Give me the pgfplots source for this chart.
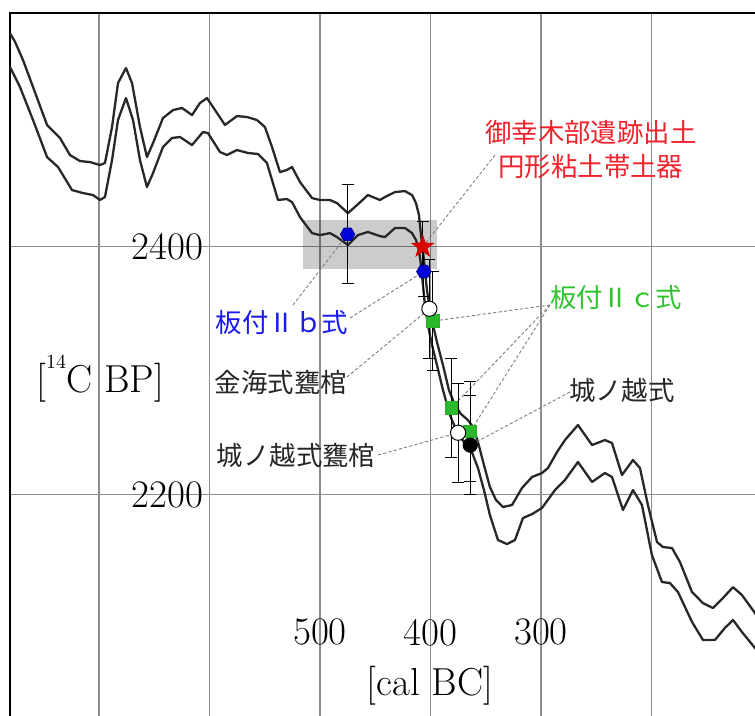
\documentclass[border=0pt]{standalone}
\usepackage{fontspec}
\usepackage{pgfplots}
\usepackage{pgfplotstable}
\pgfplotsset{compat=1.18}
\newfontfamily\jp{Noto Sans CJK JP}

\definecolor{bluelab}{RGB}{25,25,235}
\definecolor{redlab}{RGB}{240,35,45}
\definecolor{greenlab}{RGB}{45,195,45}
\definecolor{curvecol}{RGB}{40,40,40}
\definecolor{gridcol}{RGB}{140,140,140}

% filled hexagon and filled five-pointed star
\pgfdeclareplotmark{hexagon*}{%
  \pgfpathmoveto{\pgfqpointpolar{0}{\pgfplotmarksize}}%
  \pgfpathlineto{\pgfqpointpolar{60}{\pgfplotmarksize}}%
  \pgfpathlineto{\pgfqpointpolar{120}{\pgfplotmarksize}}%
  \pgfpathlineto{\pgfqpointpolar{180}{\pgfplotmarksize}}%
  \pgfpathlineto{\pgfqpointpolar{240}{\pgfplotmarksize}}%
  \pgfpathlineto{\pgfqpointpolar{300}{\pgfplotmarksize}}%
  \pgfpathclose\pgfusepathqfillstroke}
\pgfdeclareplotmark{fstar}{%
  \pgfpathmoveto{\pgfpointpolar{90}{\pgfplotmarksize}}%
  \pgfpathlineto{\pgfpointpolar{126}{0.4*\pgfplotmarksize}}%
  \pgfpathlineto{\pgfpointpolar{162}{\pgfplotmarksize}}%
  \pgfpathlineto{\pgfpointpolar{198}{0.4*\pgfplotmarksize}}%
  \pgfpathlineto{\pgfpointpolar{234}{\pgfplotmarksize}}%
  \pgfpathlineto{\pgfpointpolar{270}{0.4*\pgfplotmarksize}}%
  \pgfpathlineto{\pgfpointpolar{306}{\pgfplotmarksize}}%
  \pgfpathlineto{\pgfpointpolar{342}{0.4*\pgfplotmarksize}}%
  \pgfpathlineto{\pgfpointpolar{18}{\pgfplotmarksize}}%
  \pgfpathlineto{\pgfpointpolar{54}{0.4*\pgfplotmarksize}}%
  \pgfpathclose\pgfusepathqfillstroke}

% calibration curve, upper and lower 1-sigma bounds (cal BC, 14C BP)
\pgfplotstableread{
x y
780.5 2572.1
776.0 2565.3
768.8 2550.6
759.7 2528.8
747.0 2498.2
735.3 2487.7
726.3 2474.0
717.2 2469.1
708.2 2468.3
699.1 2465.9
694.6 2467.5
688.2 2496.5
682.8 2532.0
675.6 2544.1
670.1 2532.0
662.9 2496.5
656.6 2472.3
651.1 2483.6
642.1 2503.8
633.0 2510.2
624.9 2511.9
615.8 2506.2
608.6 2515.9
602.3 2519.9
596.8 2512.7
586.0 2498.2
575.1 2505.4
566.1 2504.6
557.0 2502.2
549.8 2496.5
543.4 2480.4
536.2 2460.2
529.9 2461.9
525.3 2464.3
518.1 2452.2
507.2 2439.3
500.0 2437.7
491.0 2437.7
484.6 2435.2
474.7 2427.1
466.5 2433.6
456.6 2441.7
445.7 2437.7
441.2 2440.1
432.1 2444.1
423.1 2444.9
416.7 2441.7
413.1 2435.2
410.4 2425.6
408.6 2409.4
405.9 2389.3
403.2 2365.1
400.5 2348.9
397.7 2336.9
394.1 2323.1
388.7 2304.6
383.3 2284.4
377.8 2272.3
372.4 2265.1
366.1 2260.2
361.5 2254.6
357.0 2242.5
351.6 2224.0
346.2 2206.2
340.7 2195.7
334.4 2190.1
326.2 2191.7
317.2 2205.4
308.1 2214.3
299.1 2217.5
293.7 2221.5
285.5 2234.4
278.3 2244.1
266.5 2256.2
253.8 2240.1
242.1 2244.1
235.7 2241.7
226.7 2215.9
216.7 2228.0
210.4 2221.5
203.2 2191.7
195.0 2161.9
189.6 2157.8
181.4 2157.0
174.2 2145.7
163.3 2121.5
153.4 2112.6
144.3 2108.6
135.3 2116.7
126.2 2125.5
118.1 2119.1
106.3 2104.6
100.0 2095.0
}\upperbound

\pgfplotstableread{
x y
780.5 2544.9
771.5 2528.8
759.7 2502.2
747.0 2472.3
737.1 2464.3
724.4 2445.7
714.5 2443.3
705.4 2441.7
699.1 2437.7
694.6 2440.1
688.2 2469.9
682.8 2502.2
675.6 2519.9
669.2 2502.2
662.9 2469.9
656.6 2448.1
651.1 2459.4
642.1 2480.4
633.9 2487.7
626.7 2488.5
615.8 2482.0
605.9 2492.5
601.4 2491.7
590.5 2476.4
584.2 2474.0
575.1 2478.0
565.2 2475.6
556.1 2474.8
548.0 2467.5
538.0 2437.7
529.9 2438.5
525.3 2436.0
518.1 2423.9
507.2 2411.0
500.0 2409.4
491.0 2411.0
484.6 2407.8
474.7 2401.4
465.6 2409.4
456.6 2411.9
445.7 2408.6
441.2 2407.8
432.1 2415.1
423.1 2415.1
416.7 2411.0
413.1 2405.4
410.4 2397.3
408.6 2385.2
406.8 2369.1
405.0 2353.0
402.3 2336.9
398.6 2320.7
394.1 2304.6
388.7 2284.4
382.4 2264.3
376.0 2250.6
369.7 2242.5
362.5 2234.4
357.0 2221.5
351.6 2203.8
346.2 2183.6
338.9 2163.5
330.8 2160.2
323.5 2163.5
316.3 2181.2
308.1 2184.4
299.1 2189.3
287.3 2203.8
278.3 2211.9
266.5 2226.4
253.8 2210.3
242.1 2217.5
235.7 2214.3
225.8 2187.7
216.7 2203.8
208.6 2191.7
199.6 2151.4
190.5 2129.6
183.3 2128.8
176.0 2121.5
163.3 2097.4
153.4 2082.9
142.5 2082.9
133.5 2092.6
126.2 2099.0
118.1 2089.3
106.3 2076.4
100.0 2068.0
}\lowerbound

\begin{document}
\begin{tikzpicture}
\begin{axis}[
  scale only axis,
  width=376pt, height=358.7pt,
  x dir=reverse,
  xmin=100, xmax=780.5,
  ymin=2010, ymax=2588.5,
  xtick={100,200,...,700},
  ytick={2000,2200,2400},
  xticklabels={}, yticklabels={},
  major tick length=0pt,
  grid=major,
  major grid style={gridcol, line width=0.75pt},
  axis line style={black, line width=0.9pt},
  clip=false,
  error bars/error bar style={black, line width=0.55pt},
  error bars/error mark options={black, rotate=90, mark size=3pt, line width=0.55pt},
]
% page frame (the axis runs on past the right and bottom edges)
\coordinate (pageTL) at (axis cs:789.6,2599.0);
\coordinate (pageBR) at (axis cs:106.3,2022.3);

% shaded range
\addplot [draw=none, fill=black, fill opacity=0.2]
  coordinates {(515.4,2421.5) (394.0,2421.5) (394.0,2382.0) (515.4,2382.0)} -- cycle;

\addplot [curvecol, line width=1.15pt, no marks, line join=round] table {\upperbound};
\addplot [curvecol, line width=1.15pt, no marks, line join=round] table {\lowerbound};

% leader lines
\begin{scope}[gridcol!90!black, line width=0.45pt, dash pattern=on 1.6pt off 1.1pt]
\draw (axis cs:524.4,2353.0) -- (axis cs:475,2410);
\draw (axis cs:472.9,2342.5) -- (axis cs:406,2380);
\draw (axis cs:475.6,2294.9) -- (axis cs:401,2350);
\draw (axis cs:447.5,2232.0) -- (axis cs:375,2250);
\draw (axis cs:291.9,2353.0) -- (axis cs:398,2340);
\draw (axis cs:291.9,2353.0) -- (axis cs:381,2270);
\draw (axis cs:291.9,2353.0) -- (axis cs:364,2251);
\draw (axis cs:273.8,2282.8) -- (axis cs:364,2240);
\draw (axis cs:341.6,2474.0) -- (axis cs:407,2400);
\end{scope}

% 板付IIb式
\addplot [only marks, mark=hexagon*, mark size=3.6pt, draw=blue!60!black, fill=blue!85!black,
  error bars/.cd, y dir=both, y explicit]
  coordinates {(475,2410) +- (0,40) (406,2380) +- (0,20)};
% 板付IIc式
\addplot [only marks, mark=square*, mark size=3.2pt, draw=greenlab!90!black, fill=greenlab!95!black,
  error bars/.cd, y dir=both, y explicit]
  coordinates {(398,2340) +- (0,40) (381,2270) +- (0,40) (364,2251) +- (0,40)};
% 金海式甕棺, 城ノ越式甕棺
\addplot [only marks, mark=*, mark size=3.8pt, draw=black, fill=white, line width=0.5pt,
  error bars/.cd, y dir=both, y explicit]
  coordinates {(401,2350) +- (0,40) (375,2250) +- (0,40)};
% 城ノ越式
\addplot [only marks, mark=*, mark size=3.6pt, draw=black, fill=black,
  error bars/.cd, y dir=both, y explicit]
  coordinates {(364,2240) +- (0,40)};
% 御幸木部遺跡出土 円形粘土帯土器
\addplot [only marks, mark=fstar, mark size=5.8pt, draw=red!80!black, fill=red!85!black, line width=0.3pt,
  error bars/.cd, y dir=both, y explicit]
  coordinates {(407,2400) +- (0,20)};

% tick and axis labels
\begin{scope}[font=\fontsize{19.5}{22}\selectfont]
\node[anchor=east, inner sep=3pt] at (axis cs:600,2400) {2400};
\node[anchor=east, inner sep=3pt] at (axis cs:600,2200) {2200};
\node at (axis cs:500,2089) {500};
\node at (axis cs:400,2089) {400};
\node at (axis cs:300,2089) {300};
\node at (axis cs:699,2294) {[\raisebox{0.62em}{\fontsize{10}{10}\selectfont 14}C BP]};
\node at (axis cs:400.5,2045.7) {[cal BC]};
\end{scope}

% sample labels
\begin{scope}[font=\jp\fontsize{13.2}{17}\selectfont, inner sep=1pt]
\node[bluelab] at (axis cs:534.4,2339.3) {板付Ⅱｂ式};
\node[black!85] at (axis cs:535.3,2290.9) {金海式甕棺};
\node[black!85] at (axis cs:521.7,2232.0) {城ノ越式甕棺};
\node[greenlab] at (axis cs:232.1,2359.4) {板付Ⅱｃ式};
\node[black!85] at (axis cs:226.7,2284.4) {城ノ越式};
\node[redlab, align=center] at (axis cs:254.8,2478) {御幸木部遺跡出土\\円形粘土帯土器};
\end{scope}
\end{axis}
\pgfresetboundingbox
\useasboundingbox (pageTL) rectangle (pageBR);
\end{tikzpicture}
\end{document}
